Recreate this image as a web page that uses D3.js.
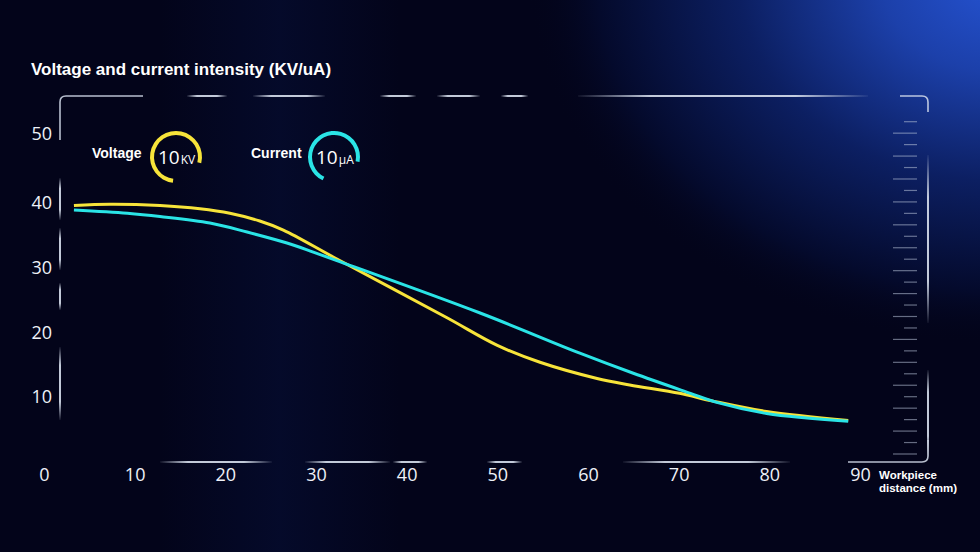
<!DOCTYPE html>
<html>
<head>
<meta charset="utf-8">
<script src="https://cdn.jsdelivr.net/npm/d3@7"></script>
<style>
  html, body { margin: 0; padding: 0; background: #03041a; }
  #chart { width: 980px; height: 552px; }
</style>
</head>
<body>
<div id="chart"></div>
<script>
// values
const voltageDist = [3.3, 7.3, 12.8, 17.2, 20.5, 23.8, 26.4, 32.1, 44.4, 50.0, 54.7, 61.0, 64.6, 70.1, 73.8, 79.7, 88.7];
const voltageKV   = [39.6, 39.8, 39.6, 39.1, 38.4, 37.2, 35.8, 31.5, 22.3, 18.0, 15.4, 12.9, 11.9, 10.6, 9.4, 7.8, 6.4];
const currentDist = [3.3, 9.2, 12.8, 18.3, 22.4, 26.8, 29.7, 32.3, 48.1, 59.1, 65.0, 71.3, 74.2, 79.7, 88.7];
const currentUA   = [38.9, 38.4, 37.9, 36.9, 35.5, 33.8, 32.4, 31.1, 23.0, 16.8, 13.7, 10.6, 9.2, 7.5, 6.3];
const xTicks = [0, 10, 20, 30, 40, 50, 60, 70, 80, 90];
const yTicks = [10, 20, 30, 40, 50];

const W = 980, H = 552;
const yellow = "#f7e43a", cyan = "#2ae4e6";

const svg = d3.select("#chart").append("svg")
  .attr("width", W).attr("height", H);

const defs = svg.append("defs");

// background glow top right
const glow = defs.append("radialGradient").attr("id", "glow")
  .attr("gradientUnits", "userSpaceOnUse")
  .attr("cx", 1000).attr("cy", -20).attr("r", 430)
  .attr("gradientTransform", "translate(1000,-20) scale(1.1,0.85) translate(-1000,20)");
glow.append("stop").attr("offset", "0%").attr("stop-color", "#2553d2");
glow.append("stop").attr("offset", "25%").attr("stop-color", "#1c40aa");
glow.append("stop").attr("offset", "55%").attr("stop-color", "#0c1f62");
glow.append("stop").attr("offset", "85%").attr("stop-color", "#040a2c");
glow.append("stop").attr("offset", "100%").attr("stop-color", "#03041a").attr("stop-opacity", 0);

const band = defs.append("linearGradient").attr("id", "band");
band.append("stop").attr("offset", "0%").attr("stop-color", "#06103a").attr("stop-opacity", 0);
band.append("stop").attr("offset", "50%").attr("stop-color", "#06103a").attr("stop-opacity", 0.5);
band.append("stop").attr("offset", "100%").attr("stop-color", "#06103a").attr("stop-opacity", 0);

function fade(id, vertical) {
  const g = defs.append("linearGradient").attr("id", id);
  if (vertical) g.attr("x1", 0).attr("y1", 0).attr("x2", 0).attr("y2", 1);
  g.append("stop").attr("offset", "0%").attr("stop-color", "#d8e0ee").attr("stop-opacity", 0.05);
  g.append("stop").attr("offset", "25%").attr("stop-color", "#d8e0ee").attr("stop-opacity", 0.9);
  g.append("stop").attr("offset", "75%").attr("stop-color", "#d8e0ee").attr("stop-opacity", 0.9);
  g.append("stop").attr("offset", "100%").attr("stop-color", "#d8e0ee").attr("stop-opacity", 0.05);
}
fade("fadeH", false);
fade("fadeV", true);

svg.append("rect").attr("width", W).attr("height", H).attr("fill", "#03041a");
svg.append("rect").attr("x", 160).attr("y", 0).attr("width", 240).attr("height", H).attr("fill", "url(#band)");
svg.append("rect").attr("width", W).attr("height", H).attr("fill", "url(#glow)");

// frame: broken segments and rounded corners
const frame = svg.append("g");
const L = 60, R = 928, T = 96, B = 462, rc = 6;
const topSegs = [[187, 227], [253, 325], [380, 416], [437, 480], [501, 528], [578, 868]];
const bottomSegs = [[160, 272], [305, 390], [393, 427], [487, 522], [623, 790]];
const leftSegs = [[178, 220], [228, 270], [283, 310], [347, 420]];
const rightSegs = [[155, 323], [370, 458]];
topSegs.forEach(s => frame.append("rect").attr("x", s[0]).attr("y", T - 1).attr("width", s[1] - s[0]).attr("height", 2).attr("fill", "url(#fadeH)"));
bottomSegs.forEach(s => frame.append("rect").attr("x", s[0]).attr("y", B - 1).attr("width", s[1] - s[0]).attr("height", 2).attr("fill", "url(#fadeH)"));
leftSegs.forEach(s => frame.append("rect").attr("x", L - 1).attr("y", s[0]).attr("width", 2).attr("height", s[1] - s[0]).attr("fill", "url(#fadeV)"));
rightSegs.forEach(s => frame.append("rect").attr("x", R - 1).attr("y", s[0]).attr("width", 2).attr("height", s[1] - s[0]).attr("fill", "url(#fadeV)"));
const cornerStyle = p => p.attr("fill", "none").attr("stroke", "#d8e0ee").attr("stroke-width", 1.6).attr("stroke-opacity", 0.85);
frame.append("path").attr("d", `M${L},140 V${T + rc} Q${L},${T} ${L + rc},${T} H143`).call(cornerStyle);
frame.append("path").attr("d", `M900,${T} H${R - rc} Q${R},${T} ${R},${T + rc} V112`).call(cornerStyle);
frame.append("path").attr("d", `M848,${B} H${R - rc} Q${R},${B} ${R},${B - rc} V440`).call(cornerStyle);

// ruler ticks on the right
const rulerIdx = d3.range(30);
const ruler = d3.scaleLinear().domain([0, 29]).range([121.7, 454]);
svg.append("g").selectAll("line").data(rulerIdx).join("line")
  .attr("x1", i => i % 2 ? 893 : 904).attr("x2", 917)
  .attr("y1", i => ruler(i)).attr("y2", i => ruler(i))
  .attr("stroke", "#b8c2d8").attr("stroke-opacity", 0.55).attr("stroke-width", 1.2);

// scales and axes
const x = d3.scaleLinear().domain([0, 90]).range([44, 860]);
const y = d3.scaleLinear().domain([0, 56.5]).range([462, 96]);

const xAxis = svg.append("g").attr("transform", "translate(0,468)")
  .call(d3.axisBottom(x).tickValues(xTicks).tickSize(0).tickPadding(0));
const yAxis = svg.append("g").attr("transform", "translate(52,0)")
  .call(d3.axisLeft(y).tickValues(yTicks).tickSize(0).tickPadding(0));
[xAxis, yAxis].forEach(a => {
  a.select(".domain").remove();
  a.selectAll("text")
    .attr("fill", "#eef1f8")
    .style("font-family", "'Open Sans', 'Noto Sans', sans-serif")
    .style("font-size", "18px");
});
yAxis.selectAll(".tick").filter(d => d === 50).select("text").attr("dy", "0.05em");

// lines
const line = d3.line().x(d => x(d[0])).y(d => y(d[1])).curve(d3.curveCatmullRom.alpha(0.5));
svg.append("path").datum(voltageDist.map((d, i) => [d, voltageKV[i]]))
  .attr("d", line).attr("fill", "none").attr("stroke", yellow).attr("stroke-width", 3);
svg.append("path").datum(currentDist.map((d, i) => [d, currentUA[i]]))
  .attr("d", line).attr("fill", "none").attr("stroke", cyan).attr("stroke-width", 3);

// title and axis name
svg.append("text").attr("x", 31).attr("y", 75)
  .attr("fill", "#ffffff")
  .style("font-family", "'Liberation Sans', Arial, sans-serif")
  .style("font-weight", "bold").style("font-size", "17px")
  .text("Voltage and current intensity (KV/uA)");

const xName = svg.append("text").attr("x", 879).attr("y", 479)
  .attr("fill", "#ffffff")
  .style("font-family", "'Liberation Sans', Arial, sans-serif")
  .style("font-weight", "bold").style("font-size", "11.5px");
xName.append("tspan").attr("x", 879).text("Workpiece");
xName.append("tspan").attr("x", 879).attr("dy", 13).text("distance (mm)");

// legend with gauge rings
const arc = d3.arc();
function legendItem(label, lx, cx, color, a0, a1, unit) {
  const g = svg.append("g");
  g.append("text").attr("x", lx).attr("y", 158)
    .attr("fill", "#ffffff")
    .style("font-family", "'Liberation Sans', Arial, sans-serif")
    .style("font-weight", "bold").style("font-size", "14px")
    .text(label);
  g.append("path")
    .attr("transform", `translate(${cx},157)`)
    .attr("d", arc({ innerRadius: 22, outerRadius: 26, startAngle: a0 * Math.PI / 180, endAngle: a1 * Math.PI / 180 }))
    .attr("fill", color);
  const t = g.append("text").attr("x", cx - 18).attr("y", 164)
    .attr("fill", "#ffffff")
    .style("font-family", "'Open Sans', 'Noto Sans', sans-serif");
  t.append("tspan").style("font-size", "19px").text("10");
  t.append("tspan").attr("dx", 1).style("font-size", "12px").text(unit);
}
legendItem("Voltage", 92, 176, yellow, -173, 104, "KV");
legendItem("Current", 251, 334, cyan, -154, 101, "μA");
</script>
</body>
</html>
